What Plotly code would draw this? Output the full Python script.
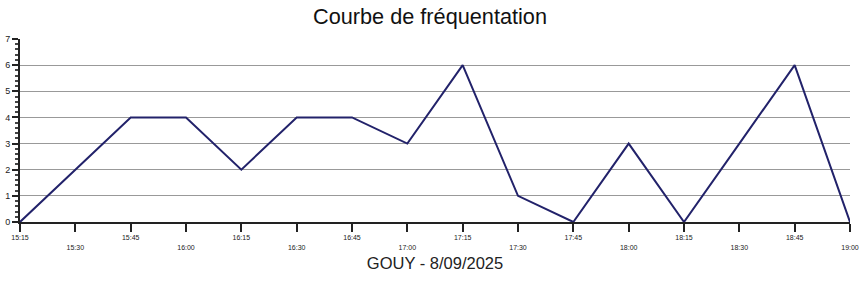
import plotly.graph_objects as go

times = ["15:15", "15:30", "15:45", "16:00", "16:15", "16:30", "16:45", "17:00",
         "17:15", "17:30", "17:45", "18:00", "18:15", "18:30", "18:45", "19:00"]
visitors = [0, 2, 4, 4, 2, 4, 4, 3, 6, 1, 0, 3, 0, 3, 6, 0]
title_text = "Courbe de fréquentation"
xaxis_title = "GOUY - 8/09/2025"

positions = list(range(len(times)))
tick_text = [t if i % 2 == 0 else "<br>" + t for i, t in enumerate(times)]

FONT = "Liberation Sans, Arial, sans-serif"

fig = go.Figure()
fig.add_trace(go.Scatter(
    x=positions, y=visitors, mode="lines",
    line=dict(color="#22226a", width=2),
    hoverinfo="skip", showlegend=False,
))

fig.update_layout(
    width=860, height=284,
    margin=dict(l=20, r=10, t=39, b=62),
    paper_bgcolor="white", plot_bgcolor="white",
    font=dict(family=FONT, color="#222"),
    title=dict(text=title_text, x=0.5, xanchor="center",
               y=1 - 16 / 284, yanchor="middle", yref="container",
               font=dict(size=21.7, family=FONT, color="#111")),
)
fig.update_xaxes(
    range=[0, len(times) - 1], tickvals=positions, ticktext=tick_text,
    showline=True, linecolor="#222", linewidth=2,
    ticks="outside", ticklen=8, tickwidth=2, tickcolor="#222",
    tickfont=dict(size=7, color="#222"), tickangle=0,
    showgrid=False, zeroline=False, automargin=False,
    title=dict(text=xaxis_title, font=dict(size=16.5, color="#222"), standoff=8),
)
fig.update_yaxes(
    range=[0, 7], dtick=1, tick0=0,
    showline=True, linecolor="#222", linewidth=2,
    ticks="outside", ticklen=6, tickwidth=2, tickcolor="#222",
    tickfont=dict(size=9, color="#222"),
    showgrid=True, gridcolor="#999", gridwidth=1,
    zeroline=False, automargin=False,
    minor=dict(dtick=0.2, ticks="outside", ticklen=3, tickcolor="#444", showgrid=False),
)

fig.write_html("out.html")
